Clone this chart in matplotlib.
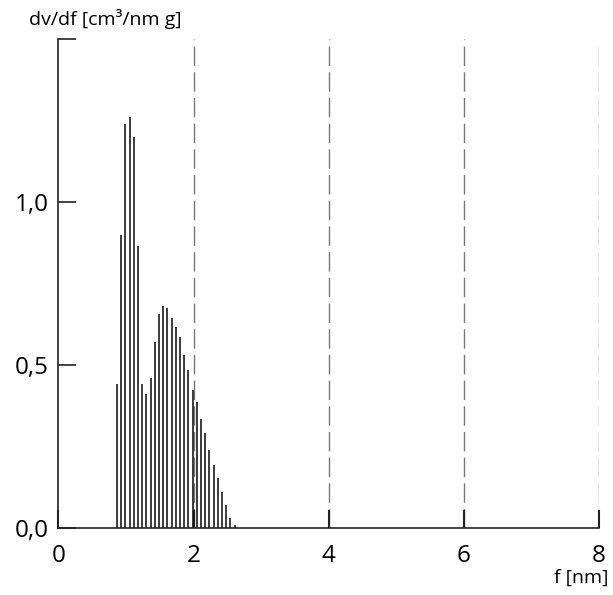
import numpy as np
import matplotlib
matplotlib.use('Agg')
import matplotlib.pyplot as plt

plt.rcParams['font.family'] = ['Open Sans', 'DejaVu Sans']

# pore width f [nm] and dv/df [cm3/nm g]
pore_width = [0.87, 0.93, 0.99, 1.06, 1.12, 1.18, 1.24, 1.30, 1.37, 1.43,
              1.49, 1.55, 1.61, 1.68, 1.74, 1.80, 1.86, 1.92, 1.99, 2.05,
              2.11, 2.17, 2.23, 2.30, 2.36, 2.42, 2.48, 2.54, 2.61]
dv_df = [0.44, 0.90, 1.24, 1.26, 1.20, 0.865, 0.44, 0.41, 0.46, 0.57,
         0.655, 0.68, 0.675, 0.645, 0.616, 0.585, 0.53, 0.483, 0.422, 0.386,
         0.335, 0.29, 0.239, 0.193, 0.152, 0.111, 0.07, 0.03, 0.009]

x_ticks = [0, 2, 4, 6, 8]
y_ticks = [0.0, 0.5, 1.0, 1.5]
y_tick_labels = ['0,0', '0,5', '1,0', '']
grid_x = [2, 4, 6, 8]

fig = plt.figure(figsize=(6.13, 5.95), dpi=100)
ax = fig.add_axes([0.0954, 0.1131, 0.8817, 0.8208])

# dashed guide lines
for gx in grid_x:
    ax.axvline(gx, color='#777777', lw=1.0, dashes=(14, 4.5), zorder=1)

ax.vlines(pore_width, 0, dv_df, color='#111111', lw=1.15, zorder=2)

ax.set_xlim(0, 8)
ax.set_ylim(0, 1.5)

for s in ['top', 'right']:
    ax.spines[s].set_visible(False)
for s in ['left', 'bottom']:
    ax.spines[s].set_linewidth(1.2)
    ax.spines[s].set_color('#222222')

ax.set_xticks(x_ticks)
ax.set_xticklabels([str(t) for t in x_ticks])
ax.set_yticks(y_ticks)
ax.set_yticklabels(y_tick_labels)
ax.tick_params(axis='both', direction='in', length=12.7, width=1.2,
               color='#222222', labelsize=17.5)
ax.tick_params(axis='x', pad=12, width=1.5)
ax.tick_params(axis='y', pad=7)

fig.text(29 / 613, 1 - 25 / 595, 'dv/df [cm³/nm g]', fontsize=14,
         ha='left', va='baseline')
fig.text(608 / 613, 1 - 583 / 595, 'f [nm]', fontsize=14,
         ha='right', va='baseline')

fig.savefig('out.png', dpi=100)
